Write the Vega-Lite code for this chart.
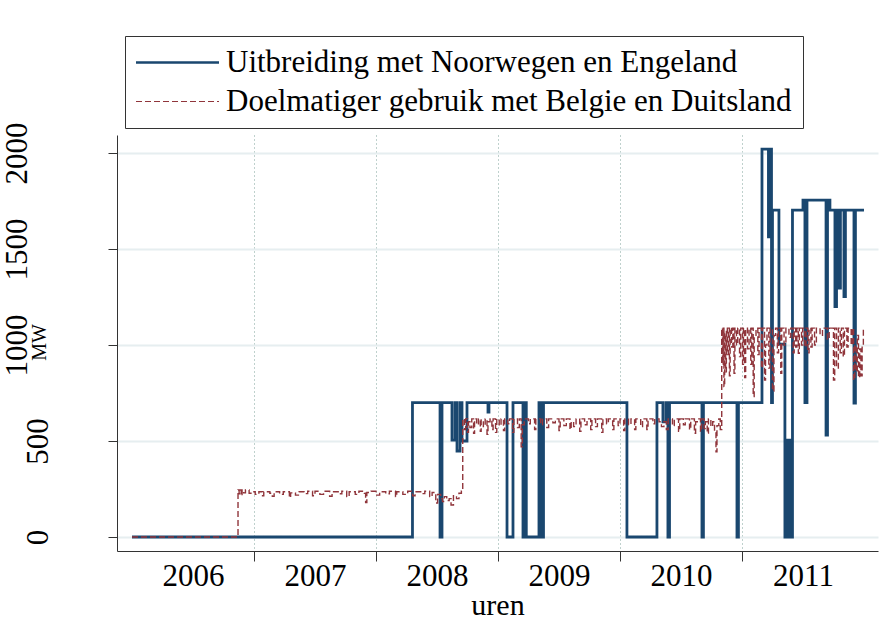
{
  "$schema": "https://vega.github.io/schema/vega-lite/v6.json",
  "autosize": {"type": "none"},
  "padding": {"left": 117, "top": 135, "right": 13, "bottom": 92},
  "width": 761,
  "height": 416,
  "background": "white",
  "config": {
    "view": {"stroke": null},
    "font": "Liberation Serif"
  },
  "datasets": {
    "blue": [
      {"s": "A", "t": 2006.0, "v": 0}, {"s": "A", "t": 2008.299, "v": 700}, {"s": "A", "t": 2008.525, "v": 0}, {"s": "A", "t": 2008.541, "v": 700},
      {"s": "A", "t": 2008.623, "v": 505}, {"s": "A", "t": 2008.648, "v": 700}, {"s": "A", "t": 2008.664, "v": 448}, {"s": "A", "t": 2008.689, "v": 700},
      {"s": "A", "t": 2008.705, "v": 500}, {"s": "A", "t": 2008.746, "v": 700}, {"s": "A", "t": 2008.918, "v": 650}, {"s": "A", "t": 2008.926, "v": 700},
      {"s": "A", "t": 2009.074, "v": 0}, {"s": "A", "t": 2009.123, "v": 700}, {"s": "A", "t": 2009.205, "v": 0}, {"s": "A", "t": 2009.221, "v": 700},
      {"s": "A", "t": 2009.232, "v": 0}, {"s": "A", "t": 2009.336, "v": 700}, {"s": "A", "t": 2009.352, "v": 0}, {"s": "A", "t": 2009.373, "v": 700},
      {"s": "A", "t": 2010.057, "v": 0}, {"s": "A", "t": 2010.303, "v": 700}, {"s": "A", "t": 2010.352, "v": 600}, {"s": "A", "t": 2010.377, "v": 700},
      {"s": "A", "t": 2010.393, "v": 0}, {"s": "A", "t": 2010.406, "v": 700}, {"s": "A", "t": 2010.672, "v": 0}, {"s": "A", "t": 2010.684, "v": 700},
      {"s": "A", "t": 2010.959, "v": 0}, {"s": "A", "t": 2010.971, "v": 700}, {"s": "A", "t": 2011.164, "v": 2020}, {"s": "A", "t": 2011.217, "v": 1563},
      {"s": "A", "t": 2011.23, "v": 2020}, {"s": "A", "t": 2011.242, "v": 700}, {"s": "A", "t": 2011.25, "v": 1703}, {"s": "A", "t": 2011.303, "v": 1005},
      {"s": "A", "t": 2011.352, "v": 0}, {"s": "A", "t": 2011.365, "v": 505}, {"s": "A", "t": 2011.377, "v": 0}, {"s": "A", "t": 2011.389, "v": 505},
      {"s": "A", "t": 2011.406, "v": 0}, {"s": "A", "t": 2011.414, "v": 1703}, {"s": "A", "t": 2011.5, "v": 1755}, {"s": "A", "t": 2011.516, "v": 700},
      {"s": "A", "t": 2011.533, "v": 1755}, {"s": "A", "t": 2011.689, "v": 531}, {"s": "A", "t": 2011.701, "v": 1755}, {"s": "A", "t": 2011.721, "v": 1703},
      {"s": "A", "t": 2011.762, "v": 1200}, {"s": "A", "t": 2011.775, "v": 1703}, {"s": "A", "t": 2011.795, "v": 1297}, {"s": "A", "t": 2011.807, "v": 1703},
      {"s": "A", "t": 2011.836, "v": 1252}, {"s": "A", "t": 2011.848, "v": 1703}, {"s": "A", "t": 2011.918, "v": 698}, {"s": "A", "t": 2011.93, "v": 1703},
      {"s": "A", "t": 2012.0, "v": 1703}
    ],
    "red": [
      {"s": "B", "t": 2006.0, "v": 0}, {"s": "B", "t": 2006.869, "v": 245}, {"s": "B", "t": 2006.878, "v": 225}, {"s": "B", "t": 2006.886, "v": 245},
      {"s": "B", "t": 2006.895, "v": 215}, {"s": "B", "t": 2006.902, "v": 245}, {"s": "B", "t": 2006.915, "v": 230}, {"s": "B", "t": 2006.93, "v": 245},
      {"s": "B", "t": 2006.96, "v": 228}, {"s": "B", "t": 2006.975, "v": 236}, {"s": "B", "t": 2007.01, "v": 222}, {"s": "B", "t": 2007.04, "v": 236},
      {"s": "B", "t": 2007.07, "v": 215}, {"s": "B", "t": 2007.08, "v": 236}, {"s": "B", "t": 2007.13, "v": 228}, {"s": "B", "t": 2007.15, "v": 212},
      {"s": "B", "t": 2007.165, "v": 236}, {"s": "B", "t": 2007.21, "v": 222}, {"s": "B", "t": 2007.24, "v": 236}, {"s": "B", "t": 2007.29, "v": 205},
      {"s": "B", "t": 2007.3, "v": 230}, {"s": "B", "t": 2007.34, "v": 218}, {"s": "B", "t": 2007.37, "v": 236}, {"s": "B", "t": 2007.41, "v": 226},
      {"s": "B", "t": 2007.44, "v": 238}, {"s": "B", "t": 2007.48, "v": 215}, {"s": "B", "t": 2007.5, "v": 238}, {"s": "B", "t": 2007.54, "v": 222},
      {"s": "B", "t": 2007.57, "v": 238}, {"s": "B", "t": 2007.62, "v": 212}, {"s": "B", "t": 2007.64, "v": 236}, {"s": "B", "t": 2007.69, "v": 225},
      {"s": "B", "t": 2007.72, "v": 238}, {"s": "B", "t": 2007.76, "v": 210}, {"s": "B", "t": 2007.78, "v": 236}, {"s": "B", "t": 2007.83, "v": 222},
      {"s": "B", "t": 2007.86, "v": 238}, {"s": "B", "t": 2007.905, "v": 228}, {"s": "B", "t": 2007.915, "v": 180}, {"s": "B", "t": 2007.925, "v": 232},
      {"s": "B", "t": 2007.96, "v": 238}, {"s": "B", "t": 2008.0, "v": 218}, {"s": "B", "t": 2008.03, "v": 236}, {"s": "B", "t": 2008.08, "v": 225},
      {"s": "B", "t": 2008.11, "v": 238}, {"s": "B", "t": 2008.16, "v": 210}, {"s": "B", "t": 2008.17, "v": 236}, {"s": "B", "t": 2008.22, "v": 222},
      {"s": "B", "t": 2008.26, "v": 238}, {"s": "B", "t": 2008.3, "v": 215}, {"s": "B", "t": 2008.32, "v": 236}, {"s": "B", "t": 2008.38, "v": 226},
      {"s": "B", "t": 2008.4, "v": 238}, {"s": "B", "t": 2008.44, "v": 210}, {"s": "B", "t": 2008.46, "v": 232}, {"s": "B", "t": 2008.49, "v": 177},
      {"s": "B", "t": 2008.505, "v": 222}, {"s": "B", "t": 2008.53, "v": 200}, {"s": "B", "t": 2008.545, "v": 185}, {"s": "B", "t": 2008.56, "v": 210},
      {"s": "B", "t": 2008.58, "v": 190}, {"s": "B", "t": 2008.6, "v": 200}, {"s": "B", "t": 2008.615, "v": 167}, {"s": "B", "t": 2008.635, "v": 215},
      {"s": "B", "t": 2008.66, "v": 200}, {"s": "B", "t": 2008.68, "v": 228}, {"s": "B", "t": 2008.7, "v": 240},
      {"s": "B", "t": 2008.711, "v": 615}, {"s": "B", "t": 2008.725, "v": 560}, {"s": "B", "t": 2008.735, "v": 615}, {"s": "B", "t": 2008.75, "v": 545},
      {"s": "B", "t": 2008.758, "v": 600}, {"s": "B", "t": 2008.77, "v": 570}, {"s": "B", "t": 2008.785, "v": 615}, {"s": "B", "t": 2008.8, "v": 540},
      {"s": "B", "t": 2008.808, "v": 615}, {"s": "B", "t": 2008.825, "v": 585}, {"s": "B", "t": 2008.84, "v": 615}, {"s": "B", "t": 2008.855, "v": 550},
      {"s": "B", "t": 2008.862, "v": 610}, {"s": "B", "t": 2008.88, "v": 575}, {"s": "B", "t": 2008.895, "v": 615}, {"s": "B", "t": 2008.91, "v": 535},
      {"s": "B", "t": 2008.918, "v": 600}, {"s": "B", "t": 2008.935, "v": 615}, {"s": "B", "t": 2008.95, "v": 560}, {"s": "B", "t": 2008.96, "v": 615},
      {"s": "B", "t": 2008.98, "v": 545}, {"s": "B", "t": 2008.99, "v": 615}, {"s": "B", "t": 2009.01, "v": 580}, {"s": "B", "t": 2009.025, "v": 615},
      {"s": "B", "t": 2009.045, "v": 555}, {"s": "B", "t": 2009.055, "v": 615}, {"s": "B", "t": 2009.08, "v": 590}, {"s": "B", "t": 2009.095, "v": 615},
      {"s": "B", "t": 2009.12, "v": 545}, {"s": "B", "t": 2009.13, "v": 615}, {"s": "B", "t": 2009.16, "v": 570}, {"s": "B", "t": 2009.175, "v": 615},
      {"s": "B", "t": 2009.19, "v": 470}, {"s": "B", "t": 2009.2, "v": 585}, {"s": "B", "t": 2009.215, "v": 615}, {"s": "B", "t": 2009.25, "v": 590},
      {"s": "B", "t": 2009.265, "v": 615}, {"s": "B", "t": 2009.3, "v": 560}, {"s": "B", "t": 2009.31, "v": 615}, {"s": "B", "t": 2009.35, "v": 585},
      {"s": "B", "t": 2009.365, "v": 615}, {"s": "B", "t": 2009.4, "v": 570}, {"s": "B", "t": 2009.415, "v": 615}, {"s": "B", "t": 2009.45, "v": 595},
      {"s": "B", "t": 2009.47, "v": 615}, {"s": "B", "t": 2009.5, "v": 555}, {"s": "B", "t": 2009.51, "v": 615}, {"s": "B", "t": 2009.54, "v": 580},
      {"s": "B", "t": 2009.56, "v": 615}, {"s": "B", "t": 2009.59, "v": 560}, {"s": "B", "t": 2009.6, "v": 600}, {"s": "B", "t": 2009.62, "v": 575},
      {"s": "B", "t": 2009.64, "v": 615}, {"s": "B", "t": 2009.67, "v": 550}, {"s": "B", "t": 2009.68, "v": 615}, {"s": "B", "t": 2009.71, "v": 585},
      {"s": "B", "t": 2009.73, "v": 615}, {"s": "B", "t": 2009.76, "v": 560}, {"s": "B", "t": 2009.77, "v": 615}, {"s": "B", "t": 2009.8, "v": 575},
      {"s": "B", "t": 2009.815, "v": 615}, {"s": "B", "t": 2009.85, "v": 545}, {"s": "B", "t": 2009.86, "v": 615}, {"s": "B", "t": 2009.89, "v": 590},
      {"s": "B", "t": 2009.905, "v": 615}, {"s": "B", "t": 2009.94, "v": 560}, {"s": "B", "t": 2009.95, "v": 615}, {"s": "B", "t": 2009.985, "v": 580},
      {"s": "B", "t": 2010.0, "v": 615}, {"s": "B", "t": 2010.03, "v": 555}, {"s": "B", "t": 2010.04, "v": 615}, {"s": "B", "t": 2010.07, "v": 585},
      {"s": "B", "t": 2010.09, "v": 615}, {"s": "B", "t": 2010.12, "v": 560}, {"s": "B", "t": 2010.13, "v": 615}, {"s": "B", "t": 2010.17, "v": 575},
      {"s": "B", "t": 2010.185, "v": 615}, {"s": "B", "t": 2010.22, "v": 560}, {"s": "B", "t": 2010.23, "v": 615}, {"s": "B", "t": 2010.27, "v": 590},
      {"s": "B", "t": 2010.285, "v": 615}, {"s": "B", "t": 2010.32, "v": 600}, {"s": "B", "t": 2010.34, "v": 575}, {"s": "B", "t": 2010.36, "v": 600},
      {"s": "B", "t": 2010.38, "v": 560}, {"s": "B", "t": 2010.395, "v": 615}, {"s": "B", "t": 2010.43, "v": 580}, {"s": "B", "t": 2010.445, "v": 615},
      {"s": "B", "t": 2010.48, "v": 550}, {"s": "B", "t": 2010.49, "v": 615}, {"s": "B", "t": 2010.52, "v": 585}, {"s": "B", "t": 2010.535, "v": 615},
      {"s": "B", "t": 2010.57, "v": 560}, {"s": "B", "t": 2010.58, "v": 615}, {"s": "B", "t": 2010.61, "v": 540}, {"s": "B", "t": 2010.62, "v": 600},
      {"s": "B", "t": 2010.64, "v": 615}, {"s": "B", "t": 2010.66, "v": 550}, {"s": "B", "t": 2010.67, "v": 615}, {"s": "B", "t": 2010.69, "v": 565},
      {"s": "B", "t": 2010.7, "v": 600}, {"s": "B", "t": 2010.715, "v": 540}, {"s": "B", "t": 2010.725, "v": 615}, {"s": "B", "t": 2010.745, "v": 575},
      {"s": "B", "t": 2010.76, "v": 600}, {"s": "B", "t": 2010.775, "v": 545}, {"s": "B", "t": 2010.787, "v": 444}, {"s": "B", "t": 2010.795, "v": 580},
      {"s": "B", "t": 2010.81, "v": 615}, {"s": "B", "t": 2010.822, "v": 560},
      {"s": "B", "t": 2010.834, "v": 1088}, {"s": "B", "t": 2010.84, "v": 900}, {"s": "B", "t": 2010.846, "v": 1088}, {"s": "B", "t": 2010.852, "v": 783},
      {"s": "B", "t": 2010.858, "v": 1060}, {"s": "B", "t": 2010.866, "v": 860}, {"s": "B", "t": 2010.872, "v": 1088}, {"s": "B", "t": 2010.88, "v": 950},
      {"s": "B", "t": 2010.888, "v": 1088}, {"s": "B", "t": 2010.897, "v": 840}, {"s": "B", "t": 2010.903, "v": 1088}, {"s": "B", "t": 2010.915, "v": 990},
      {"s": "B", "t": 2010.925, "v": 1088}, {"s": "B", "t": 2010.935, "v": 853}, {"s": "B", "t": 2010.942, "v": 1088}, {"s": "B", "t": 2010.955, "v": 1000},
      {"s": "B", "t": 2010.965, "v": 1088}, {"s": "B", "t": 2010.98, "v": 940}, {"s": "B", "t": 2010.99, "v": 1088}, {"s": "B", "t": 2011.005, "v": 900},
      {"s": "B", "t": 2011.012, "v": 1088}, {"s": "B", "t": 2011.022, "v": 830}, {"s": "B", "t": 2011.03, "v": 1088}, {"s": "B", "t": 2011.045, "v": 980},
      {"s": "B", "t": 2011.058, "v": 1088}, {"s": "B", "t": 2011.072, "v": 900}, {"s": "B", "t": 2011.08, "v": 1088}, {"s": "B", "t": 2011.092, "v": 731},
      {"s": "B", "t": 2011.1, "v": 1050}, {"s": "B", "t": 2011.115, "v": 1088}, {"s": "B", "t": 2011.13, "v": 950}, {"s": "B", "t": 2011.14, "v": 1088},
      {"s": "B", "t": 2011.16, "v": 880}, {"s": "B", "t": 2011.168, "v": 1088}, {"s": "B", "t": 2011.185, "v": 818}, {"s": "B", "t": 2011.193, "v": 1000},
      {"s": "B", "t": 2011.205, "v": 1088}, {"s": "B", "t": 2011.22, "v": 880}, {"s": "B", "t": 2011.23, "v": 1088}, {"s": "B", "t": 2011.25, "v": 760},
      {"s": "B", "t": 2011.262, "v": 1050}, {"s": "B", "t": 2011.275, "v": 1088}, {"s": "B", "t": 2011.29, "v": 960}, {"s": "B", "t": 2011.3, "v": 1088},
      {"s": "B", "t": 2011.318, "v": 853}, {"s": "B", "t": 2011.326, "v": 1088}, {"s": "B", "t": 2011.345, "v": 1000}, {"s": "B", "t": 2011.36, "v": 1088},
      {"s": "B", "t": 2011.385, "v": 1040}, {"s": "B", "t": 2011.4, "v": 1088}, {"s": "B", "t": 2011.42, "v": 960}, {"s": "B", "t": 2011.428, "v": 1088},
      {"s": "B", "t": 2011.44, "v": 990}, {"s": "B", "t": 2011.45, "v": 1088}, {"s": "B", "t": 2011.462, "v": 957}, {"s": "B", "t": 2011.47, "v": 1088},
      {"s": "B", "t": 2011.488, "v": 1000}, {"s": "B", "t": 2011.498, "v": 1088}, {"s": "B", "t": 2011.515, "v": 990}, {"s": "B", "t": 2011.525, "v": 1088},
      {"s": "B", "t": 2011.54, "v": 960}, {"s": "B", "t": 2011.55, "v": 1088}, {"s": "B", "t": 2011.565, "v": 990}, {"s": "B", "t": 2011.575, "v": 1088},
      {"s": "B", "t": 2011.595, "v": 1000}, {"s": "B", "t": 2011.61, "v": 1088}, {"s": "B", "t": 2011.64, "v": 1050}, {"s": "B", "t": 2011.66, "v": 1088},
      {"s": "B", "t": 2011.7, "v": 1030}, {"s": "B", "t": 2011.715, "v": 1088}, {"s": "B", "t": 2011.75, "v": 818}, {"s": "B", "t": 2011.76, "v": 1088},
      {"s": "B", "t": 2011.775, "v": 880}, {"s": "B", "t": 2011.79, "v": 1088}, {"s": "B", "t": 2011.805, "v": 960}, {"s": "B", "t": 2011.815, "v": 1088},
      {"s": "B", "t": 2011.83, "v": 940}, {"s": "B", "t": 2011.84, "v": 1088}, {"s": "B", "t": 2011.86, "v": 990}, {"s": "B", "t": 2011.87, "v": 1088},
      {"s": "B", "t": 2011.895, "v": 1000}, {"s": "B", "t": 2011.905, "v": 1088}, {"s": "B", "t": 2011.915, "v": 818}, {"s": "B", "t": 2011.925, "v": 1000},
      {"s": "B", "t": 2011.935, "v": 860}, {"s": "B", "t": 2011.945, "v": 1050}, {"s": "B", "t": 2011.955, "v": 830}, {"s": "B", "t": 2011.965, "v": 980},
      {"s": "B", "t": 2011.975, "v": 840}, {"s": "B", "t": 2011.985, "v": 1000}, {"s": "B", "t": 2011.995, "v": 1088}, {"s": "B", "t": 2012.0, "v": 1088}
    ]
  },
  "encoding": {
    "x": {
      "field": "t", "type": "quantitative",
      "scale": {"domain": [2005.877, 2012.115], "nice": false, "zero": false},
      "axis": {
        "title": "uren",
        "values": [2006.5, 2007, 2007.5, 2008, 2008.5, 2009, 2009.5, 2010, 2010.5, 2011, 2011.5],
        "labelExpr": "datum.value % 1 == 0.5 ? toString(floor(datum.value)) : ''",
        "labelFont": "Liberation Serif", "labelFontSize": 31, "labelColor": "black",
        "labelBaseline": "alphabetic", "labelPadding": 24, "labelFlush": false, "labelOverlap": false,
        "tickSize": 10, "tickColor": "#333",
        "tickOpacity": {"condition": {"test": "datum.value % 1 == 0", "value": 1}, "value": 0},
        "domainColor": "#333",
        "grid": true, "gridDash": [1, 3], "gridColor": "#7fa39b", "gridWidth": 1,
        "gridOpacity": {"condition": {"test": "datum.value % 1 == 0", "value": 1}, "value": 0},
        "titleFont": "Liberation Serif", "titleFontSize": 30, "titleFontWeight": "normal", "titleColor": "black",
        "titleBaseline": "alphabetic", "titleY": 63
      }
    },
    "y": {
      "field": "v", "type": "quantitative",
      "scale": {"domain": [-73, 2094], "nice": false, "zero": false},
      "axis": {
        "title": "MW",
        "values": [0, 500, 1000, 1500, 2000],
        "format": "d",
        "labelAngle": 270, "labelAlign": "center", "labelBaseline": "alphabetic",
        "labelFont": "Liberation Serif", "labelFontSize": 31, "labelColor": "black",
        "labelPadding": {"condition": {"test": "datum.value >= 1000", "value": 82}, "value": 61},
        "labelFlush": false, "labelOverlap": false,
        "tickSize": 9, "tickColor": "#333", "domainColor": "#333",
        "grid": true, "gridColor": "#e6eef0", "gridWidth": 2,
        "titleFont": "Liberation Serif", "titleFontSize": 20, "titleFontWeight": "normal", "titleColor": "black",
        "titleAngle": 270, "titleAlign": "center", "titleBaseline": "alphabetic",
        "titleX": -72, "titleY": 207
      }
    },
    "color": {
      "field": "s", "type": "nominal",
      "scale": {"domain": ["A", "B"], "range": ["#1a476f", "#90353b"]},
      "legend": {
        "title": null, "orient": "none", "legendX": 8, "legendY": -99, "direction": "vertical",
        "symbolType": "stroke", "symbolSize": 6889, "symbolOffset": 26,
        "labelExpr": "datum.value == 'A' ? 'Uitbreiding met Noorwegen en Engeland' : 'Doelmatiger gebruik met Belgie en Duitsland'",
        "labelFont": "Liberation Serif", "labelFontSize": 31, "labelColor": "black", "labelLimit": 800,
        "labelOffset": 33, "rowPadding": 7, "strokeColor": "#333", "fillColor": "white", "padding": 11,
        "encode": {"symbols": {"update": {"strokeWidth": {"signal": "datum.value == 'A' ? 2.5 : 1.2"}}}}
      }
    },
    "strokeDash": {
      "field": "s", "type": "nominal",
      "scale": {"domain": ["A", "B"], "range": [[1, 0], [6, 3]]},
      "legend": {
        "title": null, "orient": "none", "legendX": 8, "legendY": -99, "direction": "vertical",
        "symbolType": "stroke", "symbolSize": 6889, "symbolOffset": 26,
        "labelExpr": "datum.value == 'A' ? 'Uitbreiding met Noorwegen en Engeland' : 'Doelmatiger gebruik met Belgie en Duitsland'",
        "labelFont": "Liberation Serif", "labelFontSize": 31, "labelColor": "black", "labelLimit": 800,
        "labelOffset": 33, "rowPadding": 7, "strokeColor": "#333", "fillColor": "white", "padding": 11,
        "encode": {"symbols": {"update": {"strokeWidth": {"signal": "datum.value == 'A' ? 2.5 : 1.2"}}}}
      }
    }
  },
  "layer": [
    {
      "data": {"name": "blue"},
      "mark": {"type": "line", "interpolate": "step-after", "strokeWidth": 2.8}
    },
    {
      "data": {"name": "red"},
      "mark": {"type": "line", "interpolate": "step-after", "strokeWidth": 1.4}
    }
  ]
}
